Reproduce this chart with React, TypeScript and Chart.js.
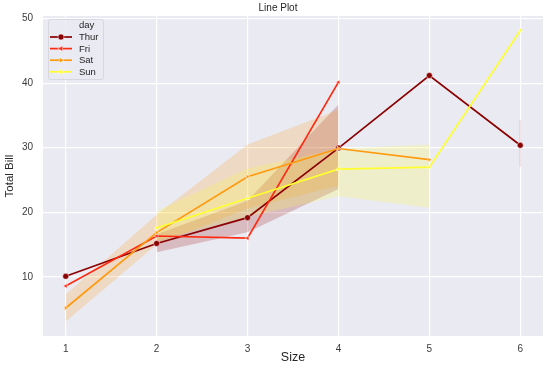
import React, { useEffect, useRef } from 'react';
import { Chart, registerables } from 'chart.js';

Chart.register(...registerables);

// ---- data ----
const sizes = [1, 2, 3, 4, 5, 6];
const days = ['Thur', 'Fri', 'Sat', 'Sun'];
const xTicks = [1, 2, 3, 4, 5, 6];
const yTicks = [10, 20, 30, 40, 50];

const thurMean = [10.07, 15.16, 19.16, 29.95, 41.19, 30.38];
const friMean = [8.58, 16.32, 15.98, 40.17, null, null];
const satMean = [5.16, 16.84, 25.51, 29.88, 28.15, null];
const sunMean = [null, 17.56, 22.18, 26.69, 27.0, 48.17];

const thurLow = [null, 13.8, 16.9, 23.6, null, null];
const thurHigh = [null, 16.6, 21.8, 36.7, null, null];
const friLow = [null, 14.0, null, null, null, null];
const friHigh = [null, 18.8, null, null, null, null];
const satLow = [3.07, 15.0, 20.6, 24.1, null, null];
const satHigh = [7.25, 19.6, 30.5, 35.9, null, null];
const sunLow = [null, 15.6, 19.3, 22.5, 20.7, null];
const sunHigh = [null, 20.2, 26.8, 29.8, 30.5, null];
const thurSize6Ci = [27.05, 34.3];

const colors = ['#8b0000', '#ff2a12', '#ff9a10', '#ffff30'];
const bandColors = [
  'rgba(139,0,0,0.2)',
  'rgba(255,42,18,0.2)',
  'rgba(255,154,16,0.2)',
  'rgba(255,255,48,0.2)',
];
const markers = ['circle', 'left', 'right', 'up'];

const FONT = "'Liberation Sans', Arial, sans-serif";

function pts(arr: (number | null)[]) {
  return sizes.map((s, i) => ({ x: s, y: arr[i] }));
}

function drawMarker(ctx: CanvasRenderingContext2D, kind: string, x: number, y: number, r: number, color: string) {
  ctx.beginPath();
  if (kind === 'circle') {
    ctx.arc(x, y, r, 0, Math.PI * 2);
  } else {
    const base = kind === 'left' ? Math.PI : kind === 'right' ? 0 : -Math.PI / 2;
    for (let k = 0; k < 3; k++) {
      const a = base + (k * 2 * Math.PI) / 3;
      const px = x + r * Math.cos(a);
      const py = y + r * Math.sin(a);
      if (k === 0) ctx.moveTo(px, py);
      else ctx.lineTo(px, py);
    }
    ctx.closePath();
  }
  ctx.fillStyle = color;
  ctx.fill();
  ctx.strokeStyle = '#ffffff';
  ctx.lineWidth = 0.5;
  ctx.stroke();
}

const bgPlugin = {
  id: 'plotBg',
  beforeDraw(chart: any) {
    const { ctx, chartArea } = chart;
    ctx.save();
    ctx.fillStyle = '#ffffff';
    ctx.fillRect(0, 0, chart.width, chart.height);
    ctx.fillStyle = '#eaeaf2';
    ctx.fillRect(chartArea.left, chartArea.top, chartArea.right - chartArea.left, chartArea.bottom - chartArea.top);
    ctx.restore();
  },
};

const decorPlugin = {
  id: 'decor',
  afterDraw(chart: any) {
    const ctx: CanvasRenderingContext2D = chart.ctx;
    ctx.save();
    // title
    ctx.fillStyle = '#262626';
    ctx.font = `10px ${FONT}`;
    ctx.textAlign = 'center';
    ctx.textBaseline = 'middle';
    ctx.fillText('Line Plot', 278, 8);

    // legend box
    const bx = 48.5, by = 19.5, bw = 55, bh = 60;
    ctx.beginPath();
    const rr = 2;
    ctx.moveTo(bx + rr, by);
    ctx.lineTo(bx + bw - rr, by);
    ctx.quadraticCurveTo(bx + bw, by, bx + bw, by + rr);
    ctx.lineTo(bx + bw, by + bh - rr);
    ctx.quadraticCurveTo(bx + bw, by + bh, bx + bw - rr, by + bh);
    ctx.lineTo(bx + rr, by + bh);
    ctx.quadraticCurveTo(bx, by + bh, bx, by + bh - rr);
    ctx.lineTo(bx, by + rr);
    ctx.quadraticCurveTo(bx, by, bx + rr, by);
    ctx.closePath();
    ctx.fillStyle = 'rgba(234,234,242,0.85)';
    ctx.fill();
    ctx.strokeStyle = '#d2d2d8';
    ctx.lineWidth = 0.8;
    ctx.stroke();

    ctx.textAlign = 'left';
    ctx.textBaseline = 'middle';
    ctx.font = `9.5px ${FONT}`;
    ctx.fillStyle = '#262626';
    ctx.fillText('day', 79, 25.5);
    days.forEach((d, i) => {
      const y = 37 + i * 11.6;
      ctx.beginPath();
      ctx.moveTo(50, y);
      ctx.lineTo(72, y);
      ctx.strokeStyle = colors[i];
      ctx.lineWidth = 1.7;
      ctx.stroke();
      drawMarker(ctx, markers[i], 61, y, i === 0 ? 3 : 3.2, colors[i]);
      ctx.fillStyle = '#262626';
      ctx.fillText(d, 79, y + 0.5);
    });
    ctx.restore();
  },
};

export default function App() {
  const ref = useRef<HTMLCanvasElement | null>(null);

  useEffect(() => {
    document.body.style.margin = '0';
    const canvas = ref.current;
    if (!canvas) return;

    const means = [thurMean, friMean, satMean, sunMean];
    const lows = [thurLow, friLow, satLow, sunLow];
    const highs = [thurHigh, friHigh, satHigh, sunHigh];

    const datasets: any[] = [];
    // bands
    days.forEach((d, i) => {
      const lowIdx = datasets.length;
      datasets.push({
        label: d + ' low',
        data: pts(lows[i]),
        borderColor: 'transparent',
        borderWidth: 0,
        pointRadius: 0,
        fill: false,
        order: 14 - i,
        spanGaps: false,
      });
      datasets.push({
        label: d + ' high',
        data: pts(highs[i]),
        borderColor: 'transparent',
        borderWidth: 0,
        pointRadius: 0,
        backgroundColor: bandColors[i],
        fill: { target: lowIdx },
        order: 14 - i,
        spanGaps: false,
      });
    });
    // Thur size-6 interval (single x)
    datasets.push({
      label: 'Thur ci 6',
      data: thurSize6Ci.map((v) => ({ x: 6, y: v })),
      borderColor: 'rgba(139,0,0,0.1)',
      borderWidth: 2,
      pointRadius: 0,
      fill: false,
      order: 10,
    });
    // lines
    days.forEach((d, i) => {
      const kind = markers[i];
      datasets.push({
        label: d,
        data: pts(means[i]),
        borderColor: colors[i],
        backgroundColor: colors[i],
        borderWidth: 1.7,
        pointStyle: kind === 'circle' ? 'circle' : 'triangle',
        rotation: kind === 'left' ? -90 : kind === 'right' ? 90 : 0,
        pointRadius: kind === 'circle' ? 3 : 2.6,
        pointBorderColor: '#ffffff',
        pointBorderWidth: 0.5,
        fill: false,
        order: 4 - i,
        spanGaps: false,
      });
    });

    const chart = new Chart(canvas, {
      type: 'line',
      data: { datasets },
      plugins: [bgPlugin, decorPlugin],
      options: {
        animation: false,
        responsive: false,
        maintainAspectRatio: false,
        layout: { padding: { top: 16, right: 7, left: 0, bottom: 0 } },
        plugins: {
          legend: { display: false },
          title: { display: false },
          tooltip: { enabled: false },
        },
        scales: {
          x: {
            type: 'linear',
            min: 0.75,
            max: 6.25,
            afterBuildTicks: (scale: any) => {
              scale.ticks = xTicks.map((v) => ({ value: v }));
            },
            afterFit: (scale: any) => {
              scale.height = 34;
            },
            ticks: {
              padding: 7,
              color: '#3a3a3a',
              font: { size: 10, family: FONT },
              callback: (v: any) => String(v),
            },
            grid: { color: '#ffffff', lineWidth: 1.2, drawTicks: false },
            border: { display: false },
            title: {
              display: true,
              text: 'Size',
              color: '#262626',
              font: { size: 12.5, family: FONT },
              padding: { top: 0, bottom: 5 },
            },
          },
          y: {
            type: 'linear',
            min: 0.82,
            max: 50.42,
            afterBuildTicks: (scale: any) => {
              scale.ticks = yTicks.map((v) => ({ value: v }));
            },
            afterFit: (scale: any) => {
              scale.width = 43;
            },
            ticks: {
              padding: 10,
              color: '#3a3a3a',
              font: { size: 10, family: FONT },
              callback: (v: any) => String(v),
            },
            grid: { color: '#ffffff', lineWidth: 1.2, drawTicks: false },
            border: { display: false },
            title: {
              display: true,
              text: 'Total Bill',
              color: '#262626',
              font: { size: 11.5, family: FONT },
              padding: { top: 3, bottom: 0 },
            },
          },
        },
      },
    });

    return () => chart.destroy();
  }, []);

  return (
    <div style={{ position: 'absolute', left: 0, top: 0, width: 550, height: 370 }}>
      <canvas ref={ref} width={550} height={370} style={{ width: 550, height: 370, display: 'block' }} />
    </div>
  );
}
